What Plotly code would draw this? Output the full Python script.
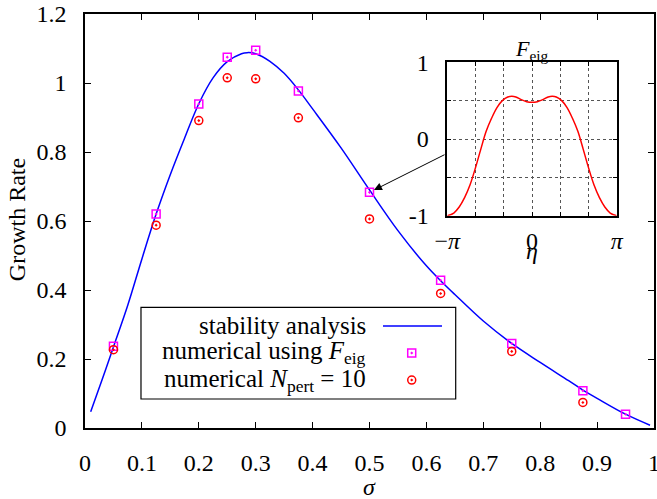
import numpy as np
import plotly.graph_objects as go

# ---------------- data ----------------
sigma_curve = [0.01, 0.03, 0.05, 0.075, 0.1, 0.125, 0.15, 0.175, 0.2, 0.225, 0.25,
               0.275, 0.285, 0.3, 0.325, 0.35, 0.375, 0.4, 0.45, 0.5, 0.55, 0.6,
               0.625, 0.65, 0.7, 0.75, 0.8, 0.85, 0.875, 0.9, 0.95, 0.993]
growth_curve = [0.047, 0.14, 0.235, 0.355, 0.49, 0.62, 0.735, 0.84, 0.94, 1.015, 1.062,
                1.085, 1.088, 1.085, 1.063, 1.028, 0.98, 0.925, 0.812, 0.69, 0.572, 0.47,
                0.427, 0.387, 0.31, 0.245, 0.19, 0.137, 0.11, 0.086, 0.04, 0.008]

sigma_feig = [0.05, 0.125, 0.2, 0.25, 0.3, 0.375, 0.5, 0.625, 0.75, 0.875, 0.95]
growth_feig = [0.237, 0.62, 0.939, 1.075, 1.095, 0.977, 0.683, 0.428, 0.245, 0.108, 0.04]

sigma_npert = [0.05, 0.125, 0.2, 0.25, 0.3, 0.375, 0.5, 0.625, 0.75, 0.875]
growth_npert = [0.227, 0.588, 0.891, 1.015, 1.012, 0.899, 0.606, 0.39, 0.222, 0.074]

eta = [-3.1416, -2.9, -2.7, -2.5, -2.3, -2.1, -1.9, -1.7, -1.5, -1.3, -1.1, -0.9, -0.75,
       -0.6, -0.4, -0.2, 0.0, 0.2, 0.4, 0.6, 0.75, 0.9, 1.1, 1.3, 1.5, 1.7, 1.9, 2.1,
       2.3, 2.5, 2.7, 2.9, 3.1416]
feig = [-1.0, -0.965, -0.887, -0.765, -0.6, -0.38, -0.135, 0.1, 0.27, 0.41, 0.5, 0.548, 0.556,
        0.548, 0.513, 0.487, 0.478, 0.487, 0.513, 0.548, 0.556, 0.548, 0.5, 0.41, 0.27, 0.1,
        -0.135, -0.38, -0.6, -0.765, -0.887, -0.965, -1.0]

x_tickvals = [0, 0.1, 0.2, 0.3, 0.4, 0.5, 0.6, 0.7, 0.8, 0.9, 1]
x_ticktext = ["0", "0.1", "0.2", "0.3", "0.4", "0.5", "0.6", "0.7", "0.8", "0.9", "1"]
y_tickvals = [0, 0.2, 0.4, 0.6, 0.8, 1.0, 1.2]
y_ticktext = ["0", "0.2", "0.4", "0.6", "0.8", "1", "1.2"]

inset_xtickvals = [-np.pi, 0, np.pi]
inset_xticktext = ["\u2212<i>\u03c0</i>", "0", "<i>\u03c0</i>"]
inset_xminor = [-2*np.pi/3, -np.pi/3, np.pi/3, 2*np.pi/3]
inset_ytickvals = [-1, 0, 1]
inset_yticktext = ["-1", "0", "1"]
inset_yminor = [-0.5, 0.5]

legend_labels = ["stability analysis",
                 "numerical using <i>F</i><sub>eig</sub>",
                 "numerical <i>N</i><sub>pert</sub> = 10"]

# ---------------- style ----------------
FONT = "Liberation Serif"
FS = 24
BLUE = "#0000ff"
MAG = "#ff00ff"
RED = "#ff0000"

fig = go.Figure()

fig.add_trace(go.Scatter(x=sigma_curve, y=growth_curve, mode="lines",
                         line=dict(color=BLUE, width=1.5, shape="spline"),
                         showlegend=False, xaxis="x", yaxis="y"))
fig.add_trace(go.Scatter(x=sigma_feig, y=growth_feig, mode="markers",
                         marker=dict(symbol="square-open-dot", size=8, color=MAG,
                                     line=dict(width=1.5, color=MAG)),
                         showlegend=False, xaxis="x", yaxis="y"))
fig.add_trace(go.Scatter(x=sigma_npert, y=growth_npert, mode="markers",
                         marker=dict(symbol="circle-open-dot", size=8, color=RED,
                                     line=dict(width=1.5, color=RED)),
                         showlegend=False, xaxis="x", yaxis="y"))

# inset
fig.add_trace(go.Scatter(x=eta, y=feig, mode="lines",
                         line=dict(color=RED, width=1.5, shape="spline"),
                         showlegend=False, xaxis="x2", yaxis="y2"))

# legend (drawn manually: text left of sample)
leg_rows = [0.2464, 0.1812, 0.1159]
leg_text_x = 0.4974
leg_mark_x = 0.5742
fig.add_trace(go.Scatter(x=[leg_mark_x], y=[leg_rows[1]], mode="markers",
                         marker=dict(symbol="square-open-dot", size=8, color=MAG,
                                     line=dict(width=1.5, color=MAG)),
                         showlegend=False, hoverinfo="skip", xaxis="x3", yaxis="y3"))
fig.add_trace(go.Scatter(x=[leg_mark_x], y=[leg_rows[2]], mode="markers",
                         marker=dict(symbol="circle-open-dot", size=8, color=RED,
                                     line=dict(width=1.5, color=RED)),
                         showlegend=False, hoverinfo="skip", xaxis="x3", yaxis="y3"))

shapes = [
    dict(type="rect", xref="paper", yref="paper", x0=0.0984, x1=0.6515, y0=0.070, y1=0.2915,
         line=dict(color="black", width=1.2), fillcolor="white", layer="below"),
    dict(type="line", xref="paper", yref="paper", x0=0.5237, x1=0.6274,
         y0=leg_rows[0], y1=leg_rows[0], line=dict(color=BLUE, width=1.5)),
]

annotations = []
for lbl, yy in zip(legend_labels, leg_rows):
    annotations.append(dict(text=lbl, xref="paper", yref="paper", x=leg_text_x, y=yy,
                            xanchor="right", yanchor="middle", showarrow=False,
                            font=dict(family=FONT, size=25, color="black")))

annotations += [
    dict(text="<i>\u03c3</i>", xref="paper", yref="paper", x=0.5, y=-0.1425,
         xanchor="center", yanchor="middle", showarrow=False,
         font=dict(family=FONT, size=FS, color="black")),
    dict(text="Growth Rate", xref="paper", yref="paper", x=-0.1195, y=0.502,
         xanchor="center", yanchor="middle", textangle=-90, showarrow=False,
         font=dict(family=FONT, size=FS, color="black")),
    dict(text="<i>F</i><sub>eig</sub>", xref="paper", yref="paper", x=0.7856, y=0.913,
         xanchor="center", yanchor="middle", showarrow=False,
         font=dict(family=FONT, size=22, color="black")),
    dict(text="<i>\u03b7</i>", xref="paper", yref="paper", x=0.7856, y=0.427,
         xanchor="center", yanchor="middle", showarrow=False,
         font=dict(family=FONT, size=FS, color="black")),
    dict(text="", xref="x", yref="y", x=sigma_feig[6], y=growth_feig[6],
         axref="pixel", ayref="pixel", ax=76.5, ay=-38.4, showarrow=True,
         arrowhead=2, arrowsize=1.6, arrowwidth=1, arrowcolor="black", standoff=5),
]

axis_common = dict(showline=True, linecolor="black", linewidth=1.5, mirror="allticks",
                   ticks="inside", tickcolor="black", zeroline=False, automargin=False,
                   ticklabeloverflow="allow",
                   tickfont=dict(family=FONT, size=FS, color="black"))
inset_minor_style = dict(ticks="inside", ticklen=4, tickwidth=1, tickcolor="black",
                         showgrid=True, gridcolor="#555555", griddash="dot", gridwidth=1)

fig.update_layout(
    width=657, height=499,
    margin=dict(l=85, r=3, t=14, b=71, autoexpand=False),
    paper_bgcolor="white", plot_bgcolor="white",
    showlegend=False,
    xaxis=dict(range=[0, 1], domain=[0, 1], tickvals=x_tickvals, ticktext=x_ticktext,
               ticklen=6, tickwidth=1, ticklabelstandoff=12, anchor="y", showgrid=False,
               **axis_common),
    yaxis=dict(range=[0, 1.2], domain=[0, 1], tickvals=y_tickvals, ticktext=y_ticktext,
               ticklen=6, tickwidth=1, ticklabelstandoff=12, anchor="x", showgrid=False,
               **axis_common),
    xaxis2=dict(range=[-np.pi, np.pi], domain=[0.6367, 0.9345], anchor="y2",
                tickvals=inset_xtickvals, ticktext=inset_xticktext,
                ticklen=4, tickwidth=1, ticklabelstandoff=3,
                showgrid=True, gridcolor="#555555", griddash="dot", gridwidth=1,
                minor=dict(tickvals=inset_xminor, **inset_minor_style),
                **axis_common),
    yaxis2=dict(range=[-1, 1], domain=[0.5128, 0.8833], anchor="x2",
                tickvals=inset_ytickvals, ticktext=inset_yticktext,
                ticklen=4, tickwidth=1, ticklabelstandoff=12,
                showgrid=True, gridcolor="#555555", griddash="dot", gridwidth=1,
                minor=dict(tickvals=inset_yminor, **inset_minor_style),
                **axis_common),
    xaxis3=dict(range=[0, 1], domain=[0, 1], overlaying="x", visible=False, anchor="y3"),
    yaxis3=dict(range=[0, 1], domain=[0, 1], overlaying="y", visible=False, anchor="x3"),
    shapes=shapes,
    annotations=annotations,
)

fig.write_html("out.html", config={"displayModeBar": False},
               post_script="document.body.style.margin='0';document.body.style.overflow='hidden';")
